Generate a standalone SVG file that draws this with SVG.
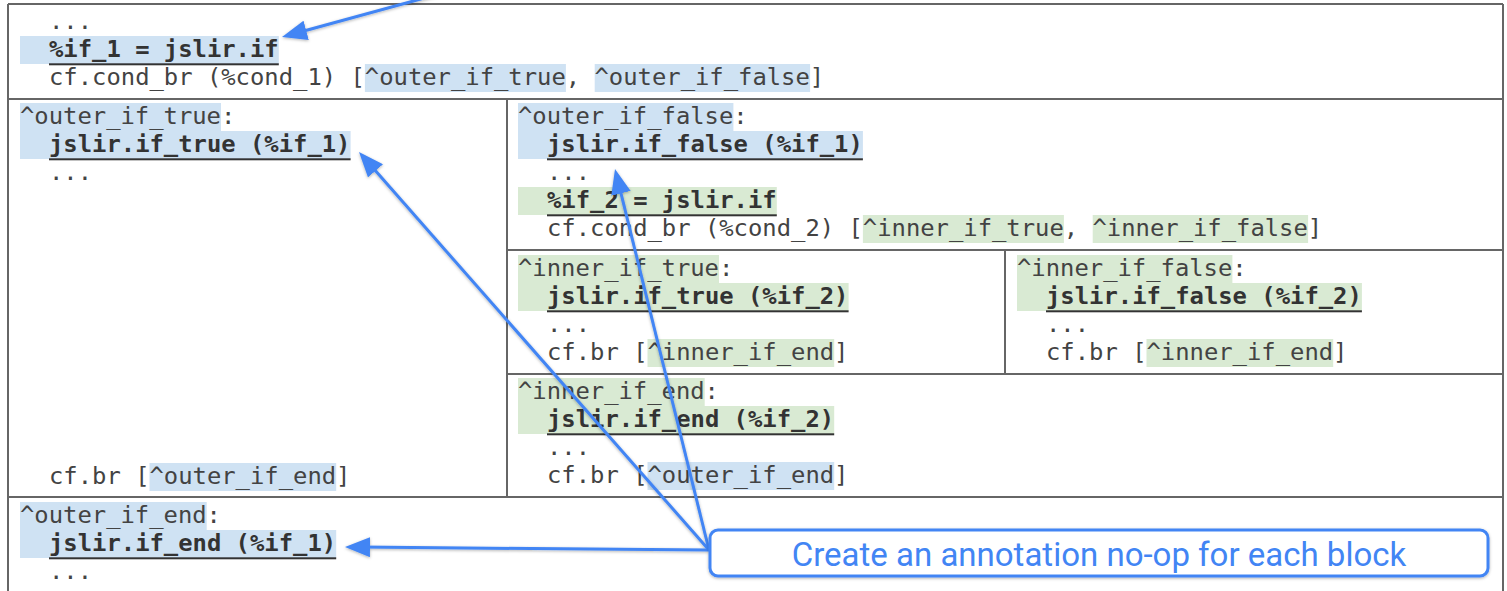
<svg xmlns="http://www.w3.org/2000/svg" width="1507" height="591" viewBox="0 0 1507 591">
  <style>
    .code { font-family: "DejaVu Sans Mono", "Liberation Mono", monospace; font-size: 23.85px; fill: #434343; }
    .op { font-weight: bold; fill: #333333; }
    .hb { fill: #cfe2f3; }
    .hg { fill: #d9ead3; }
    .ul { fill: #333333; }
    .frame { fill: none; stroke: #666666; stroke-width: 2; }
    .wire { fill: none; stroke: #4285f4; stroke-width: 3; marker-end: url(#head); }
    .note { font-family: Roboto, "Liberation Sans", sans-serif; font-size: 33px; fill: #4285f4; }
  </style>
  <defs>
    <marker id="head" viewBox="0 0 25 20" refX="10" refY="10" markerWidth="25" markerHeight="20" markerUnits="userSpaceOnUse" orient="auto">
      <path d="M0,0 L25,10 L0,20 Z" fill="#4285f4"/>
    </marker>
    <filter id="shadow" x="-10%" y="-10%" width="120%" height="130%">
      <feDropShadow dx="0" dy="1" stdDeviation="1.5" flood-color="#000000" flood-opacity="0.3"/>
    </filter>
  </defs>

  <rect width="1507" height="591" fill="#ffffff"/>

  <!-- table frame -->
  <g id="frame">
    <path class="frame" d="M8,4 H1503 M8,4 V591 M1503,4 V591 M8,99 H1503 M8,497 H1503 M507,99 V497 M507,250 H1503 M507,374 H1503 M1005,250 V374"/>
  </g>

  <!-- entry block -->
  <g id="entry">
    <rect class="hb" x="20" y="36" width="258.8" height="28"/>
    <rect class="hb" x="364.9" y="64" width="201" height="28"/>
    <rect class="hb" x="594.7" y="64" width="215.4" height="28"/>
    <text class="code" x="49" y="29">...</text>
    <text class="code op" x="49" y="57">%if_1 = jslir.if</text>
    <rect class="ul" x="49" y="63.3" width="229.8" height="2"/>
    <text class="code" x="49" y="85">cf.cond_br (%cond_1) [^outer_if_true, ^outer_if_false]</text>
  </g>

  <!-- ^outer_if_true -->
  <g id="outer_if_true">
    <rect class="hb" x="20" y="103" width="201" height="28"/>
    <rect class="hb" x="20" y="131" width="330.6" height="28"/>
    <rect class="hb" x="149.5" y="463" width="186.7" height="28"/>
    <text class="code" x="20" y="124">^outer_if_true:</text>
    <text class="code op" x="49" y="152">jslir.if_true (%if_1)</text>
    <rect class="ul" x="49" y="158.3" width="301.6" height="2"/>
    <text class="code" x="49" y="180">...</text>
    <text class="code" x="49" y="484">cf.br [^outer_if_end]</text>
  </g>

  <!-- ^outer_if_false -->
  <g id="outer_if_false">
    <rect class="hb" x="518" y="103" width="215.4" height="28"/>
    <rect class="hb" x="518" y="131" width="344.9" height="28"/>
    <rect class="hg" x="518" y="187" width="258.8" height="28"/>
    <rect class="hg" x="862.9" y="215" width="201" height="28"/>
    <rect class="hg" x="1092.7" y="215" width="215.4" height="28"/>
    <text class="code" x="518" y="124">^outer_if_false:</text>
    <text class="code op" x="547" y="152">jslir.if_false (%if_1)</text>
    <rect class="ul" x="547" y="158.3" width="315.9" height="2"/>
    <text class="code" x="547" y="180">...</text>
    <text class="code op" x="547" y="208">%if_2 = jslir.if</text>
    <rect class="ul" x="547" y="214.3" width="229.8" height="2"/>
    <text class="code" x="547" y="236">cf.cond_br (%cond_2) [^inner_if_true, ^inner_if_false]</text>
  </g>

  <!-- ^inner_if_true -->
  <g id="inner_if_true">
    <rect class="hg" x="518" y="255" width="201" height="28"/>
    <rect class="hg" x="518" y="283" width="330.6" height="28"/>
    <rect class="hg" x="647.5" y="339" width="186.7" height="28"/>
    <text class="code" x="518" y="276">^inner_if_true:</text>
    <text class="code op" x="547" y="304">jslir.if_true (%if_2)</text>
    <rect class="ul" x="547" y="310.3" width="301.6" height="2"/>
    <text class="code" x="547" y="332">...</text>
    <text class="code" x="547" y="360">cf.br [^inner_if_end]</text>
  </g>

  <!-- ^inner_if_false -->
  <g id="inner_if_false">
    <rect class="hg" x="1017" y="255" width="215.4" height="28"/>
    <rect class="hg" x="1017" y="283" width="344.9" height="28"/>
    <rect class="hg" x="1146.5" y="339" width="186.7" height="28"/>
    <text class="code" x="1017" y="276">^inner_if_false:</text>
    <text class="code op" x="1046" y="304">jslir.if_false (%if_2)</text>
    <rect class="ul" x="1046" y="310.3" width="315.9" height="2"/>
    <text class="code" x="1046" y="332">...</text>
    <text class="code" x="1046" y="360">cf.br [^inner_if_end]</text>
  </g>

  <!-- ^inner_if_end -->
  <g id="inner_if_end">
    <rect class="hg" x="518" y="378" width="186.7" height="28"/>
    <rect class="hg" x="518" y="406" width="316.2" height="28"/>
    <rect class="hb" x="647.5" y="462" width="186.7" height="28"/>
    <text class="code" x="518" y="399">^inner_if_end:</text>
    <text class="code op" x="547" y="427">jslir.if_end (%if_2)</text>
    <rect class="ul" x="547" y="433.3" width="287.2" height="2"/>
    <text class="code" x="547" y="455">...</text>
    <text class="code" x="547" y="483">cf.br [^outer_if_end]</text>
  </g>

  <!-- ^outer_if_end -->
  <g id="outer_if_end">
    <rect class="hb" x="20" y="502" width="186.7" height="28"/>
    <rect class="hb" x="20" y="530" width="316.2" height="28"/>
    <text class="code" x="20" y="523">^outer_if_end:</text>
    <text class="code op" x="49" y="551">jslir.if_end (%if_1)</text>
    <rect class="ul" x="49" y="557.3" width="287.2" height="2"/>
    <text class="code" x="49" y="579">...</text>
  </g>

  <!-- connectors -->
  <g id="connectors" filter="url(#shadow)">
    <path class="wire" d="M450,-9 L296.5,33"/>
    <path class="wire" d="M709,550 L368.9,163.3"/>
    <path class="wire" d="M709,550 L618.6,183.6"/>
    <path class="wire" d="M709,550 L360,547.1"/>
  </g>

  <!-- annotation -->
  <g id="annotation">
    <rect x="710" y="530" width="778" height="46" rx="8" ry="8" fill="#ffffff" stroke="#4285f4" stroke-width="3" filter="url(#shadow)"/>
    <text class="note" x="1099" y="566" text-anchor="middle">Create an annotation no-op for each block</text>
  </g>
</svg>
